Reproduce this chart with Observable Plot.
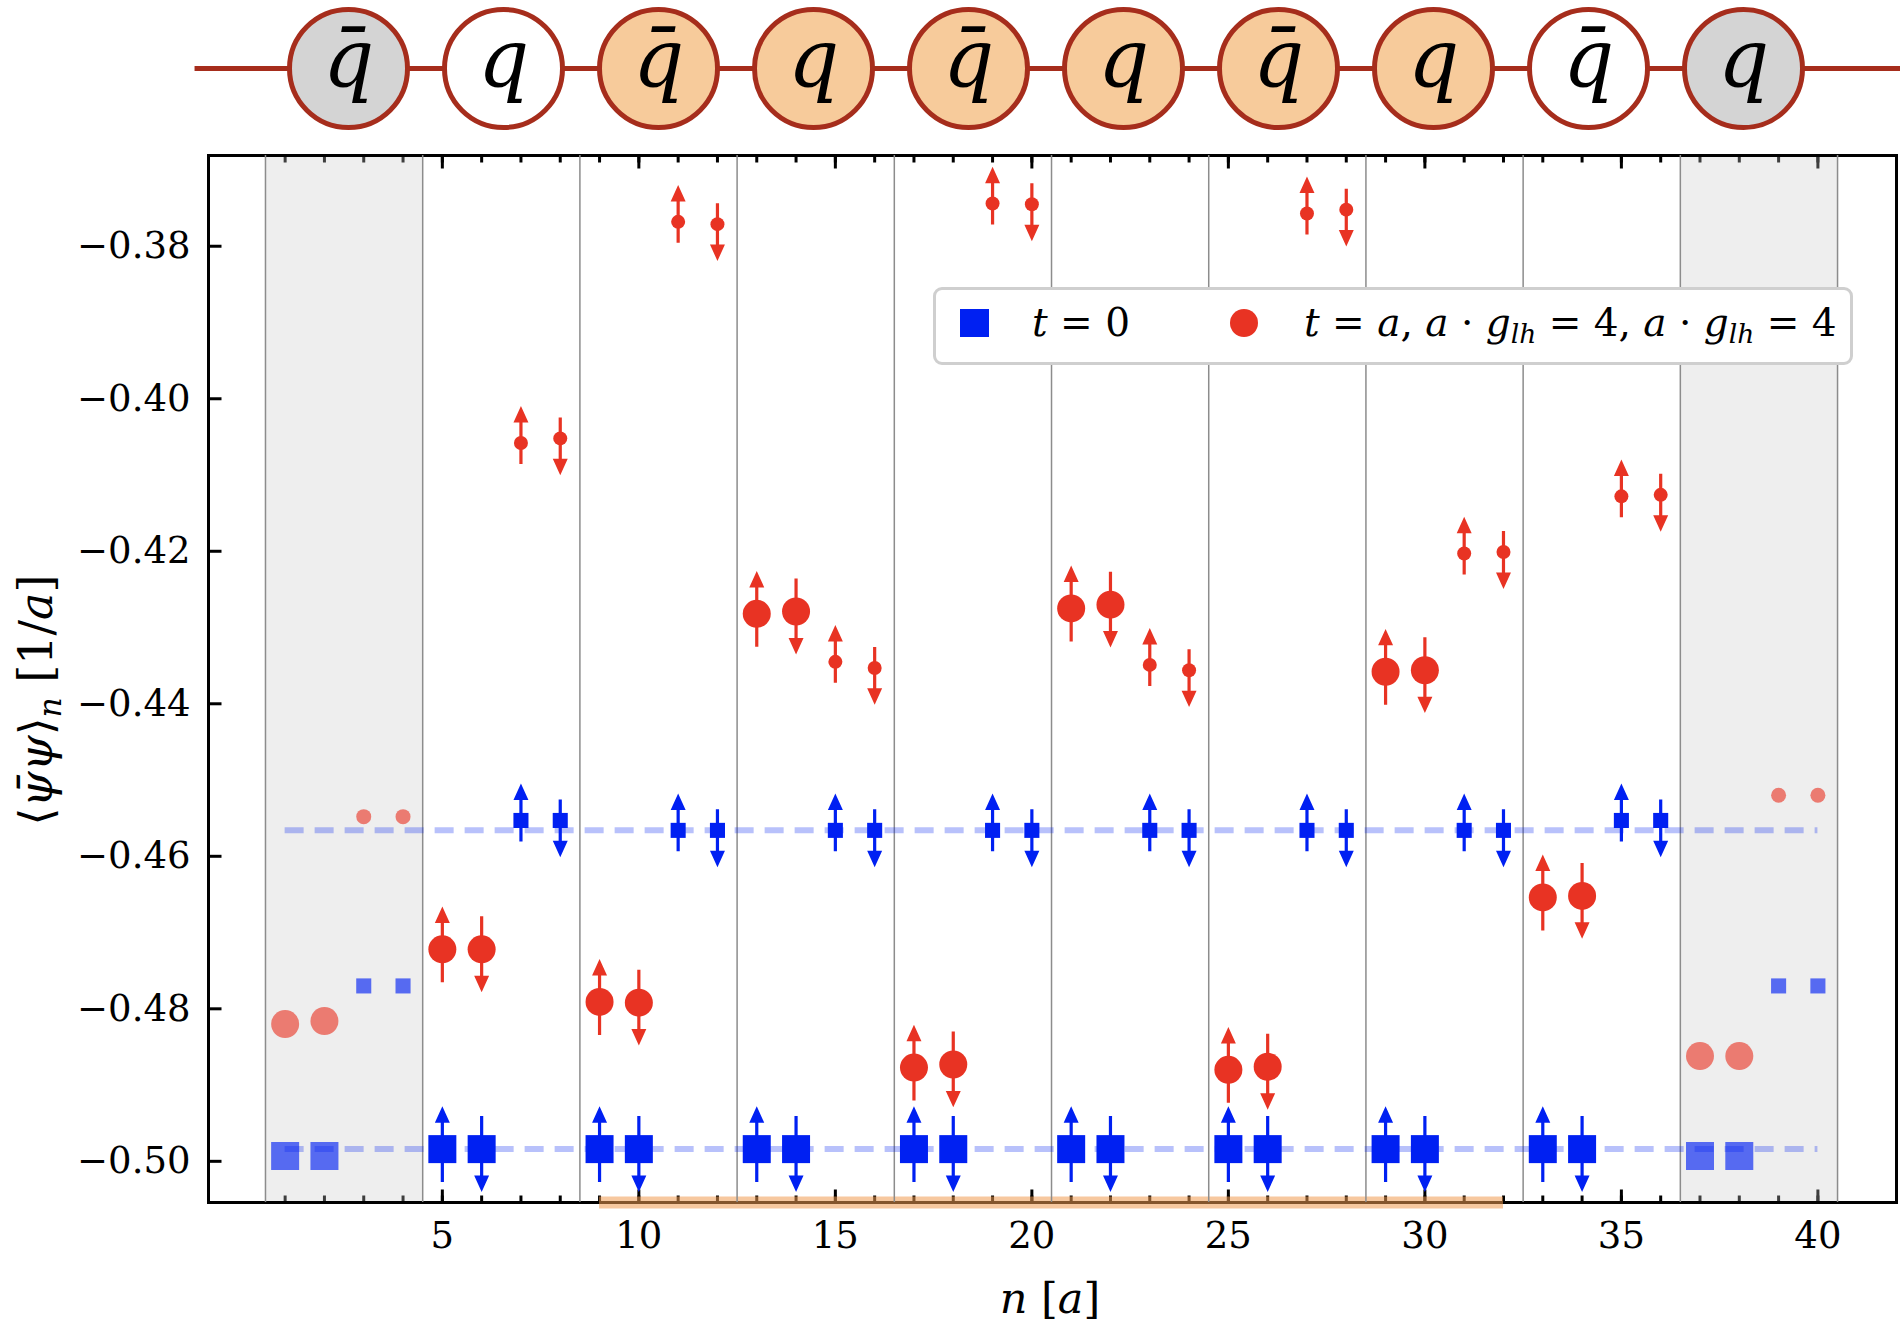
<!DOCTYPE html>
<html><head><meta charset="utf-8">
<script src="https://cdn.jsdelivr.net/npm/d3@7"></script>
<script src="https://cdn.jsdelivr.net/npm/@observablehq/plot@0.6"></script>
<style>
body{margin:0;background:#fff;}
#root{position:relative;width:1900px;height:1332px;overflow:hidden;font-family:"DejaVu Serif",serif;color:#000;background:#fff;}
#chain{position:absolute;left:0;top:0;}
#main{position:absolute;left:0;top:140px;}
#legend{position:absolute;left:933px;top:287px;width:914px;height:72px;border:3px solid #cfcfcf;border-radius:9px;background:#fff;}
#legend .sq{position:absolute;left:24px;top:19px;width:29px;height:28px;background:#0020f2;}
#legend .ci{position:absolute;left:294px;top:19px;width:28px;height:28px;border-radius:50%;background:#e83323;}
#legend .tx{position:absolute;top:8px;font-size:39px;line-height:50px;white-space:nowrap;}
sub{font-size:0.68em;vertical-align:-0.28em;line-height:0;}
#ylabel{position:absolute;left:36px;top:700px;transform:translate(-50%,-50%) rotate(-90deg);font-size:46px;white-space:nowrap;}
#xlabel{position:absolute;left:1050px;top:1298px;transform:translate(-50%,-50%);font-size:43px;white-space:nowrap;}
</style></head>
<body>
<div id="root">
  <div id="chain"></div>
  <div id="main"></div>
  <div id="legend">
    <div class="sq"></div><div class="tx" style="left:96px"><i>t</i> = 0</div>
    <div class="ci"></div><div class="tx" style="left:368px"><i>t</i> = <i>a</i>, <i>a</i> · <i>g</i><sub><i>lh</i></sub> = 4, <i>a</i> · <i>g</i><sub><i>lh</i></sub> = 4</div>
  </div>
  <div id="ylabel">⟨<i>ψ̄ψ</i>⟩<sub><i>n</i></sub> [1/<i>a</i>]</div>
  <div id="xlabel"><i>n</i> [<i>a</i>]</div>
</div>
<script>
// ---------------- data ----------------
const sites = d3.range(1, 41);
const t0Values = [
  -0.4993, -0.4993, -0.4770, -0.4770,
  -0.4984, -0.4984, -0.4553, -0.4553,
  -0.4984, -0.4984, -0.4566, -0.4566,
  -0.4984, -0.4984, -0.4566, -0.4566,
  -0.4984, -0.4984, -0.4566, -0.4566,
  -0.4984, -0.4984, -0.4566, -0.4566,
  -0.4984, -0.4984, -0.4566, -0.4566,
  -0.4984, -0.4984, -0.4566, -0.4566,
  -0.4984, -0.4984, -0.4553, -0.4553,
  -0.4993, -0.4993, -0.4770, -0.4770
];
const t1Values = [
  -0.4820, -0.4816, -0.4548, -0.4548,
  -0.4722, -0.4722, -0.4058, -0.4052,
  -0.4791, -0.4792, -0.3768, -0.3771,
  -0.4282, -0.4279, -0.4345, -0.4353,
  -0.4877, -0.4873, -0.3744, -0.3745,
  -0.4275, -0.4270, -0.4349, -0.4356,
  -0.4880, -0.4876, -0.3757, -0.3752,
  -0.4358, -0.4356, -0.4203, -0.4201,
  -0.4654, -0.4652, -0.4128, -0.4126,
  -0.4862, -0.4862, -0.4520, -0.4520
];
const referenceLevels = [-0.4984, -0.4566];
const groupEdges = [0.5, 4.5, 8.5, 12.5, 16.5, 20.5, 24.5, 28.5, 32.5, 36.5, 40.5];
const edgeZones = [[0.5, 4.5], [36.5, 40.5]];
const highlight = [[9, 32]];
const xMajorTicks = [5, 10, 15, 20, 25, 30, 35, 40];
const yTicks = [-0.50, -0.48, -0.46, -0.44, -0.42, -0.40, -0.38];
const chainLabels = ["q\u0304", "q", "q\u0304", "q", "q\u0304", "q", "q\u0304", "q", "q\u0304", "q"];
const chainFills = ["#d4d4d4", "#ffffff", "#f7cb9b", "#f7cb9b", "#f7cb9b", "#f7cb9b", "#f7cb9b", "#f7cb9b", "#ffffff", "#d4d4d4"];

// ---------------- styles ----------------
const BLUE = "#0020f2", RED = "#e83323", CHAIN = "#a62d1c";
const X_DOMAIN = [-0.95, 42.0], Y_DOMAIN = [-0.5054, -0.3681];

const rows = sites.map((n, i) => ({
  n, t0: t0Values[i], t1: t1Values[i],
  big: ((n - 1) % 4) < 2, up: n % 2 === 1,
  edge: n <= 4 || n >= 37
}));
const inner = rows.filter(d => !d.edge), outer = rows.filter(d => d.edge);

function lineSymbol(dx, dy) {
  return {draw(ctx) { ctx.moveTo(0, 0); ctx.lineTo(dx, dy); }};
}
function spinArrow(tip, tail, dir) {
  const hl = 11, hw = 5;
  return {draw(ctx) {
    ctx.moveTo(0, -dir * tail);
    ctx.lineTo(0, dir * (tip - hl));
    ctx.moveTo(-hw, dir * (tip - hl));
    ctx.lineTo(hw, dir * (tip - hl));
    ctx.lineTo(0, dir * tip);
    ctx.closePath();
  }};
}
function arrows(key, color) {
  return [[true, true], [true, false], [false, true], [false, false]].map(([big, up]) =>
    Plot.dot(inner.filter(d => d.big === big && d.up === up), {
      x: "n", y: key, r: 1,
      symbol: spinArrow(big ? 39 : 33, big ? 33 : 21, up ? -1 : 1),
      fill: color, stroke: color, strokeWidth: 3.2
    }));
}

// ---------------- top chain diagram ----------------
const chainData = chainLabels.map((label, i) => ({i, label, fill: chainFills[i]}));
const chain = Plot.plot({
  width: 1900, height: 140, margin: 0,
  x: {domain: [0, 9], range: [348, 1743]},
  y: {domain: [-1, 1], range: [128, 8]},
  axis: null,
  style: {background: "transparent", overflow: "visible"},
  marks: [
    Plot.ruleY([0], {x1: () => -0.99, x2: () => 10.2, stroke: CHAIN, strokeWidth: 5}),
    Plot.dot(chainData, {x: "i", y: () => 0, r: 59, fill: "fill", stroke: CHAIN, strokeWidth: 5}),
    Plot.text(chainData, {x: "i", y: () => 0, text: "label", fontSize: 80, fontStyle: "italic",
      fontFamily: "DejaVu Serif", lineAnchor: "bottom", dy: 17, fill: "black"})
  ]
});
document.getElementById("chain").appendChild(chain);

// ---------------- main chart ----------------
const main = Plot.plot({
  width: 1900, height: 1192,
  marginTop: 15, marginBottom: 130, marginLeft: 208, marginRight: 4,
  x: {domain: X_DOMAIN},
  y: {domain: Y_DOMAIN},
  style: {fontFamily: "DejaVu Serif", fontSize: "37px", color: "black", background: "transparent", overflow: "visible"},
  marks: [
    // ticks (inward)
    Plot.dot(xMajorTicks, {x: d => d, y: () => Y_DOMAIN[0], symbol: lineSymbol(0, -13), fill: "none", stroke: "black", strokeWidth: 3}),
    Plot.dot(sites, {x: d => d, y: () => Y_DOMAIN[0], symbol: lineSymbol(0, -7), fill: "none", stroke: "black", strokeWidth: 3}),
    Plot.dot(xMajorTicks, {x: d => d, y: () => Y_DOMAIN[1], symbol: lineSymbol(0, 13), fill: "none", stroke: "black", strokeWidth: 3}),
    Plot.dot(sites, {x: d => d, y: () => Y_DOMAIN[1], symbol: lineSymbol(0, 7), fill: "none", stroke: "black", strokeWidth: 3}),
    Plot.dot(yTicks, {x: () => X_DOMAIN[0], y: d => d, symbol: lineSymbol(13, 0), fill: "none", stroke: "black", strokeWidth: 3}),
    // shaded edge zones
    Plot.rect(edgeZones, {x1: d => d[0], x2: d => d[1], fill: "#c8c8c8", fillOpacity: 0.31}),
    Plot.frame({stroke: "black", strokeWidth: 3}),
    // highlighted region along bottom axis
    Plot.ruleY(highlight, {y: () => Y_DOMAIN[0], x1: d => d[0], x2: d => d[1], stroke: "#f09a50", strokeOpacity: 0.55, strokeWidth: 12}),
    // group boundaries
    Plot.ruleX(groupEdges, {stroke: "#8c8c8c", strokeWidth: 1.5}),
    // reference dashed lines
    Plot.ruleY(referenceLevels, {y: d => d, x1: () => sites[0], x2: () => sites[sites.length - 1],
      stroke: BLUE, strokeOpacity: 0.28, strokeWidth: 6, strokeDasharray: "19,11"}),
    // axis labels
    Plot.axisX({ticks: xMajorTicks, tickSize: 0, tickPadding: 19, label: null, tickFormat: d => String(d)}),
    Plot.axisY({ticks: yTicks, tickSize: 0, tickPadding: 18, label: null, tickFormat: ".2f"}),
    // edge (faded) points
    Plot.dot(outer.filter(d => d.big), {x: "n", y: "t0", symbol: "square", r: 15.8, fill: BLUE, fillOpacity: 0.64}),
    Plot.dot(outer.filter(d => !d.big), {x: "n", y: "t0", symbol: "square", r: 8.5, fill: BLUE, fillOpacity: 0.64}),
    Plot.dot(outer.filter(d => d.big), {x: "n", y: "t1", r: 14, fill: RED, fillOpacity: 0.62}),
    Plot.dot(outer.filter(d => !d.big), {x: "n", y: "t1", r: 7.5, fill: RED, fillOpacity: 0.62}),
    // t = 0
    ...arrows("t0", BLUE),
    Plot.dot(inner.filter(d => d.big), {x: "n", y: "t0", symbol: "square", r: 15.8, fill: BLUE}),
    Plot.dot(inner.filter(d => !d.big), {x: "n", y: "t0", symbol: "square", r: 8.5, fill: BLUE}),
    // t = a
    ...arrows("t1", RED),
    Plot.dot(inner.filter(d => d.big), {x: "n", y: "t1", r: 14, fill: RED}),
    Plot.dot(inner.filter(d => !d.big), {x: "n", y: "t1", r: 7, fill: RED})
  ]
});
document.getElementById("main").appendChild(main);
</script>
</body></html>
